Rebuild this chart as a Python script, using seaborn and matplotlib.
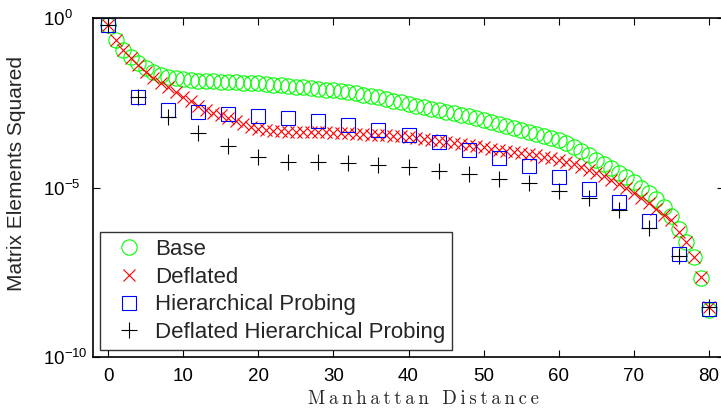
import numpy as np
import pandas as pd
import matplotlib
matplotlib.use('Agg')
import matplotlib.pyplot as plt
import seaborn as sns

# distancias
dist_all = list(range(0, 81))
dist_hp = list(range(0, 81, 4))

# log10 dos valores
base_log = [-0.20, -0.65, -0.94, -1.15, -1.32, -1.47, -1.58, -1.67, -1.74, -1.78,
            -1.81, -1.83, -1.85, -1.86, -1.87, -1.88, -1.89, -1.90, -1.91, -1.92,
            -1.93, -1.95, -1.97, -1.99, -2.01, -2.03, -2.05, -2.07, -2.09, -2.11,
            -2.13, -2.16, -2.19, -2.22, -2.26, -2.30, -2.34, -2.39, -2.44, -2.49,
            -2.55, -2.59, -2.63, -2.67, -2.72, -2.76, -2.80, -2.85, -2.90, -2.95,
            -3.00, -3.06, -3.12, -3.18, -3.24, -3.30, -3.36, -3.42, -3.48, -3.54,
            -3.60, -3.70, -3.81, -3.93, -4.05, -4.18, -4.30, -4.43, -4.56, -4.70,
            -4.85, -5.00, -5.17, -5.35, -5.58, -5.85, -6.22, -6.60, -7.06, -7.68,
            -8.60]
deflated_log = [-0.20, -0.65, -0.94, -1.18, -1.38, -1.58, -1.76, -1.92, -2.04, -2.18,
                -2.32, -2.46, -2.60, -2.70, -2.80, -2.87, -2.94, -3.04, -3.14, -3.22,
                -3.28, -3.31, -3.33, -3.34, -3.35, -3.35, -3.36, -3.36, -3.37, -3.37,
                -3.38, -3.39, -3.40, -3.41, -3.43, -3.44, -3.45, -3.46, -3.47, -3.49,
                -3.50, -3.53, -3.56, -3.59, -3.62, -3.65, -3.68, -3.72, -3.75, -3.79,
                -3.82, -3.85, -3.88, -3.91, -3.94, -3.97, -4.01, -4.05, -4.09, -4.13,
                -4.18, -4.24, -4.31, -4.39, -4.47, -4.56, -4.66, -4.77, -4.89, -5.02,
                -5.15, -5.30, -5.46, -5.64, -5.80, -5.96, -6.30, -6.62, -7.06, -7.65,
                -8.53]
hp_log = [-0.20, -2.32, -2.70, -2.77, -2.83, -2.88, -2.94, -3.03, -3.15, -3.29,
          -3.44, -3.65, -3.88, -4.12, -4.38, -4.68, -5.03, -5.44, -6.00, -6.97,
          -8.59]
dhp_log = [-0.20, -2.32, -2.91, -3.38, -3.79, -4.09, -4.24, -4.26, -4.29, -4.35,
           -4.41, -4.50, -4.59, -4.76, -4.88, -5.09, -5.32, -5.65, -6.18, -7.03,
           -8.53]

sns.set_style('ticks')
plt.rcParams['font.family'] = ['Liberation Sans', 'DejaVu Sans']
plt.rcParams['mathtext.default'] = 'regular'

fig = plt.figure(figsize=(7.21, 4.08), dpi=100)
ax = fig.add_axes([93/721, 51/408, 631/721, 339/408])

series = [
    ('Base', dist_all, base_log, 'o', '#00ff00', 11),
    ('Deflated', dist_all, deflated_log, 'x', '#ff0000', 8.5),
    ('Hierarchical Probing', dist_hp, hp_log, 's', '#0000ff', 10),
    ('Deflated Hierarchical Probing', dist_hp, dhp_log, '+', 'black', 11),
]
for nome, xs, ys, mk, cor, ms in series:
    df = pd.DataFrame({'x': xs, 'y': 10.0 ** np.array(ys)})
    sns.lineplot(data=df, x='x', y='y', ax=ax, marker=mk, linestyle='',
                 color=cor, markerfacecolor='none', markeredgecolor=cor,
                 markersize=ms, markeredgewidth=0.8, label=nome)

ax.set_yscale('log')
ax.set_xlim(-2, 82)
ax.set_ylim(1e-10, 1e0)
ax.set_xticks(range(0, 81, 10))
ax.set_yticks([1e-10, 1e-5, 1e0])
ax.set_yticklabels([r'$10^{-10}$', r'$10^{-5}$', r'$10^{0}$'], ha='left')
ax.minorticks_off()
ax.tick_params(direction='in', top=True, right=True, length=5, width=0.8,
               labelsize=13.5, colors='black')
ax.tick_params(axis='x', pad=8)
ax.tick_params(axis='y', pad=36)
for s in ax.spines.values():
    s.set_linewidth(1.2)
    s.set_color('black')

# rotulo do eixo x em fonte serifada, com letras espacadas
rotulo_x = '\u2009'.join('Manhattan Distance')
ax.set_xlabel(rotulo_x, fontfamily=['cmr10', 'DejaVu Serif'], fontsize=13.5)
ax.xaxis.set_label_coords(0.523, -0.097)
ax.set_ylabel('Matrix Elements Squared', fontsize=15)
ax.yaxis.set_label_coords(-0.106, 0.54)

leg = ax.legend(loc='lower left', fontsize=16, frameon=True, fancybox=False,
                borderaxespad=0.33, handletextpad=0.15, labelspacing=0.3,
                borderpad=0.3, handlelength=2.0)
leg.get_frame().set_edgecolor('black')
leg.get_frame().set_linewidth(1.0)

fig.savefig('out.png', dpi=100)
